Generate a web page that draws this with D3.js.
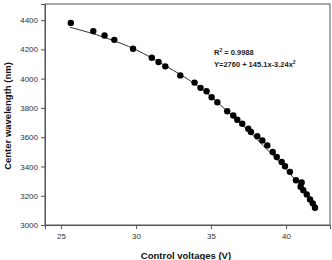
<!DOCTYPE html>
<html>
<head>
<meta charset="utf-8">
<script src="https://d3js.org/d3.v7.min.js"></script>
<style>
body { margin: 0; background: #fff; }
text { font-family: Arial, "Liberation Sans", sans-serif; }
</style>
</head>
<body>
<div id="chart"></div>
<script>
// measured points (voltage, wavelength)
var voltages = [25.65, 27.15, 27.9, 28.55, 29.8, 31.05, 31.5, 31.95, 32.95, 33.9, 34.3, 34.7, 35.04, 35.42,
  36.08, 36.48, 36.75, 37.08, 37.48, 37.66, 38.08, 38.42, 38.75, 39.11, 39.38, 39.71, 39.93, 40.26,
  40.66, 41.04, 40.97, 41.15, 41.38, 41.6, 41.78, 41.93];
var wavelengths = [4381, 4325, 4295, 4265, 4204, 4143, 4114, 4084, 4022, 3973, 3937, 3914, 3873, 3839,
  3777, 3748, 3719, 3692, 3658, 3635, 3607, 3578, 3544, 3499, 3465, 3431, 3401, 3363,
  3306, 3290, 3261, 3238, 3209, 3175, 3148, 3118];

// fit curve
var fitX = [25.6, 28, 30, 32, 34, 36, 38, 40, 42];
var fitY = [4351, 4278, 4197, 4085, 3958, 3785, 3592, 3380, 3139];

var xTicks = [25, 30, 35, 40];
var yTicks = [3000, 3200, 3400, 3600, 3800, 4000, 4200, 4400];

var width = 332, height = 260;
var margin = {top: 4, right: 2, bottom: 35, left: 45};

var svg = d3.select("#chart").append("svg")
  .attr("width", width)
  .attr("height", height);

var x = d3.scaleLinear().domain([23.93, 42.93]).range([margin.left, width - margin.right]);
var y = d3.scaleLinear().domain([3000, 4510]).range([height - margin.bottom, margin.top]);

// frame
svg.append("rect")
  .attr("x", margin.left)
  .attr("y", margin.top)
  .attr("width", width - margin.right - margin.left)
  .attr("height", height - margin.bottom - margin.top)
  .attr("fill", "none")
  .attr("stroke", "#555")
  .attr("stroke-width", 1);

var xAxis = d3.axisBottom(x).tickValues(xTicks).tickSize(4).tickPadding(4);
var yAxis = d3.axisLeft(y).tickValues(yTicks).tickSize(4).tickPadding(3).tickFormat(d3.format("d"));

var gx = svg.append("g")
  .attr("transform", "translate(0," + (height - margin.bottom) + ")")
  .call(xAxis);
var gy = svg.append("g")
  .attr("transform", "translate(" + margin.left + ",0)")
  .call(yAxis);

[gx, gy].forEach(function(g) {
  g.select(".domain").attr("stroke", "#555");
  g.selectAll(".tick line").attr("stroke", "#555");
  g.selectAll(".tick text").attr("fill", "#333").style("font-size", "8px");
});

// fit line
var line = d3.line()
  .x(function(d) { return x(d[0]); })
  .y(function(d) { return y(d[1]); })
  .curve(d3.curveMonotoneX);

svg.append("path")
  .datum(d3.zip(fitX, fitY))
  .attr("fill", "none")
  .attr("stroke", "#333")
  .attr("stroke-width", 1)
  .attr("d", line);

// dots
svg.selectAll("circle")
  .data(d3.zip(voltages, wavelengths))
  .enter()
  .append("circle")
  .attr("cx", function(d) { return x(d[0]); })
  .attr("cy", function(d) { return y(d[1]); })
  .attr("r", 3.2)
  .attr("fill", "#000");

// equation text
var eq = svg.append("text")
  .attr("x", 214)
  .attr("y", 55)
  .attr("fill", "#222")
  .style("font-size", "7.5px")
  .style("font-weight", "bold");
eq.append("tspan").text("R");
eq.append("tspan").attr("dy", -3).style("font-size", "5px").text("2");
eq.append("tspan").attr("dy", 3).text(" = 0.9988");

var eq2 = svg.append("text")
  .attr("x", 214)
  .attr("y", 67)
  .attr("fill", "#222")
  .style("font-size", "7.5px")
  .style("font-weight", "bold");
eq2.append("tspan").text("Y=2760 + 145.1x-3.24x");
eq2.append("tspan").attr("dy", -3).style("font-size", "5px").text("2");

// axis labels
svg.append("text")
  .attr("x", 186)
  .attr("y", 259)
  .attr("text-anchor", "middle")
  .attr("fill", "#111")
  .style("font-size", "9.5px")
  .style("font-weight", "bold")
  .text("Control voltages (V)");

svg.append("text")
  .attr("transform", "translate(11," + 116 + ") rotate(-90)")
  .attr("text-anchor", "middle")
  .attr("fill", "#111")
  .style("font-size", "9.5px")
  .style("font-weight", "bold")
  .text("Center wavelength (nm)");
</script>
</body>
</html>
